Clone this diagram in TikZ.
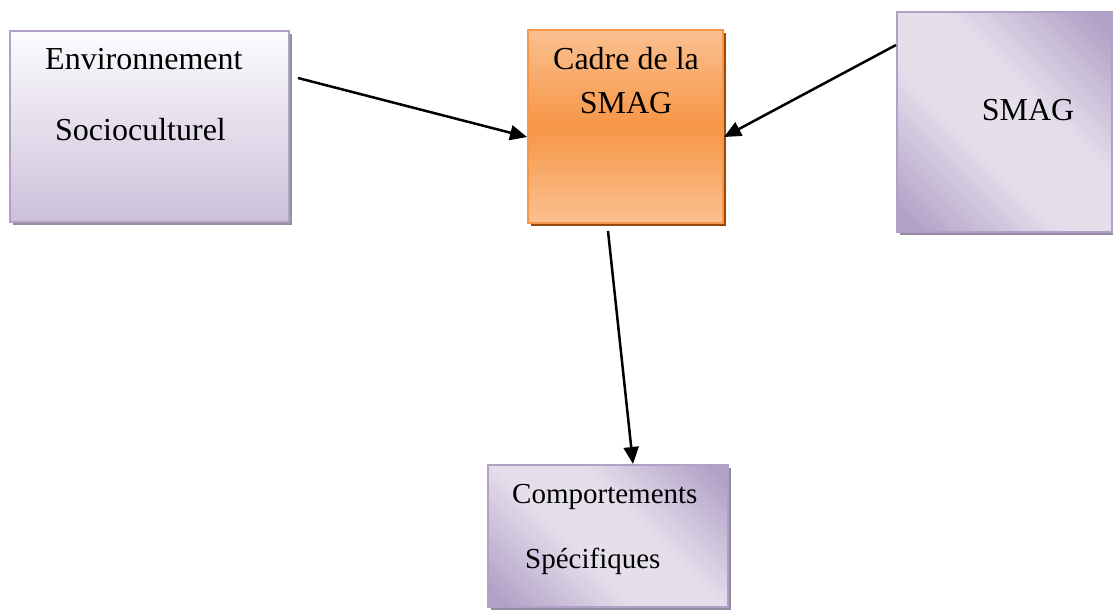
\documentclass[tikz,border=0pt]{standalone}
\usepackage{fontspec}
\setmainfont{Liberation Serif}
\usetikzlibrary{arrows.meta,shadows}
\definecolor{pBorder}{RGB}{178,161,199}
\definecolor{pDark}{RGB}{178,161,199}
\definecolor{pLight}{RGB}{229,223,236}
\definecolor{pTop}{RGB}{253,252,254}
\definecolor{pBottom}{RGB}{204,192,218}
\definecolor{pShadow}{RGB}{150,140,162}
\definecolor{oBorder}{RGB}{247,150,70}
\definecolor{oLight}{RGB}{250,192,144}
\definecolor{oMid}{RGB}{247,150,70}
\definecolor{oShadow}{RGB}{152,72,7}
\pgfdeclareverticalshading{diagpurple}{100bp}{color(0bp)=(pDark); color(18bp)=(pDark); color(42bp)=(pLight); color(58bp)=(pLight); color(82bp)=(pDark); color(100bp)=(pDark)}
\begin{document}
\begin{tikzpicture}[x=1pt,y=-1pt,
  boxbase/.style={rectangle, inner sep=0pt, line width=2pt},
  pshadow/.style={drop shadow={shadow xshift=3pt, shadow yshift=-3pt, fill=pShadow, opacity=1}},
  vbox/.style={boxbase, draw=pBorder, top color=pTop, bottom color=pBottom, pshadow},
  dbox/.style={boxbase, draw=pBorder, shading=diagpurple, shading angle=-45, pshadow},
  obox/.style={boxbase, draw=oBorder, top color=oLight, bottom color=oLight, middle color=oMid,
    drop shadow={shadow xshift=3pt, shadow yshift=-3pt, fill=oShadow, opacity=1}},
  lbl/.style={inner sep=0pt, font=\fontsize{32}{38}\selectfont},
  slbl/.style={inner sep=0pt, font=\fontsize{29}{34}\selectfont},
  arr/.style={line width=2.5pt, -{Triangle[length=17pt,width=15pt]}}
]
\useasboundingbox (0,0) rectangle (1113,610);
\node[vbox, minimum width=279pt, minimum height=191pt] (b1) at (149.5,126.5) {};
\node[obox, minimum width=195pt, minimum height=193pt] (b2) at (625.5,126.5) {};
\node[dbox, minimum width=215pt, minimum height=220pt] (b3) at (1004.5,122) {};
\node[dbox, minimum width=240pt, minimum height=142pt] (b4) at (608,536) {};

\node[lbl, anchor=base west] (t1a) at (45,70) {Environnement};
\node[lbl, anchor=base west] (t1b) at (55,140) {Socioculturel};
\node[lbl, anchor=base] (t2a) at (626,70) {Cadre de la};
\node[lbl, anchor=base] (t2b) at (626,113) {SMAG};
\node[lbl, anchor=base] (t3) at (1028,120) {SMAG};
\node[slbl, anchor=base west] (t4a) at (512,503) {Comportements};
\node[slbl, anchor=base west] (t4b) at (525,568) {Spécifiques};

\draw[arr] ([xshift=8pt,yshift=48.5pt]b1.east) -- ([yshift=-10.5pt]b2.west);
\draw[arr] ([yshift=77pt]b3.west) -- ([yshift=-10.5pt]b2.east);
\draw[arr] ([xshift=-17.5pt,yshift=-7pt]b2.south) -- ([xshift=25pt]b4.north);
\end{tikzpicture}
\end{document}
